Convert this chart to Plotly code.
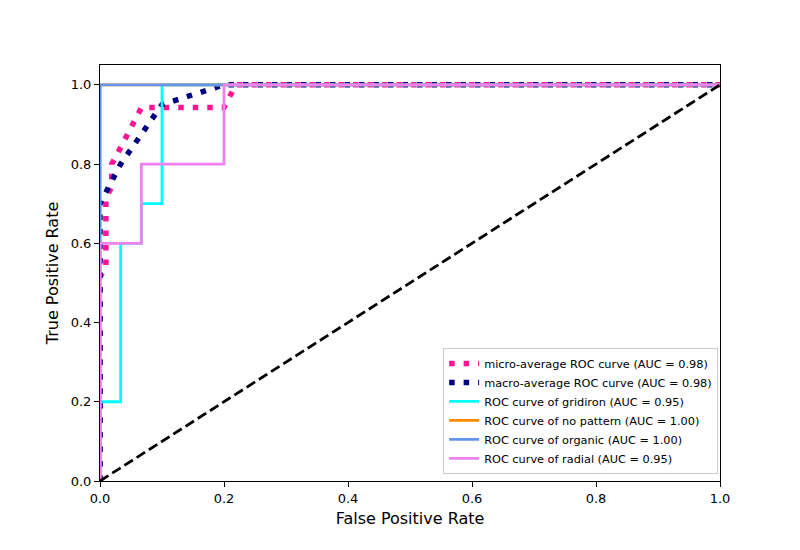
import plotly.graph_objects as go

# ---- data ----
micro_fpr = [0.0, 0.0, 0.0095, 0.0095, 0.019, 0.019, 0.029, 0.038, 0.048, 0.057, 0.067, 0.2, 0.21, 0.219, 1.0]
micro_tpr = [0.0, 0.514, 0.543, 0.714, 0.743, 0.8, 0.829, 0.857, 0.886, 0.914, 0.943, 0.943, 0.971, 1.0, 1.0]

macro_fpr = [0.0, 0.0, 0.0333, 0.0667, 0.1, 0.2, 1.0]
macro_tpr = [0.0, 0.7, 0.8, 0.875, 0.95, 1.0, 1.0]

grid_fpr = [0.0, 0.0, 0.0333, 0.0333, 0.0667, 0.0667, 0.1, 0.1, 1.0]
grid_tpr = [0.0, 0.2, 0.2, 0.6, 0.6, 0.7, 0.7, 1.0, 1.0]

nop_fpr = [0.0, 0.0, 1.0]
nop_tpr = [0.0, 1.0, 1.0]

org_fpr = [0.0, 0.0, 1.0]
org_tpr = [0.0, 1.0, 1.0]

rad_fpr = [0.0, 0.0, 0.0667, 0.0667, 0.2, 0.2, 1.0]
rad_tpr = [0.0, 0.6, 0.6, 0.8, 0.8, 1.0, 1.0]

diag_x = [0.0, 1.0]
diag_y = [0.0, 1.0]

labels = [
    "micro-average ROC curve (AUC = 0.98)",
    "macro-average ROC curve (AUC = 0.98)",
    "ROC curve of gridiron (AUC = 0.95)",
    "ROC curve of no pattern (AUC = 1.00)",
    "ROC curve of organic (AUC = 1.00)",
    "ROC curve of radial (AUC = 0.95)",
]
x_ticks = [0.0, 0.2, 0.4, 0.6, 0.8, 1.0]
y_ticks = [0.0, 0.2, 0.4, 0.6, 0.8, 1.0]

fig = go.Figure()
dot = "5.5px,9px"
fig.add_trace(go.Scatter(x=micro_fpr, y=micro_tpr, mode="lines", name=labels[0],
                         line=dict(color="#FF1493", width=5.5, dash=dot)))
fig.add_trace(go.Scatter(x=macro_fpr, y=macro_tpr, mode="lines", name=labels[1],
                         line=dict(color="#000080", width=5.5, dash=dot)))
fig.add_trace(go.Scatter(x=grid_fpr, y=grid_tpr, mode="lines", name=labels[2],
                         line=dict(color="#00FFFF", width=2.8)))
fig.add_trace(go.Scatter(x=nop_fpr, y=nop_tpr, mode="lines", name=labels[3],
                         line=dict(color="#FF8C00", width=2.8)))
fig.add_trace(go.Scatter(x=org_fpr, y=org_tpr, mode="lines", name=labels[4],
                         line=dict(color="#6495ED", width=2.8)))
fig.add_trace(go.Scatter(x=rad_fpr, y=rad_tpr, mode="lines", name=labels[5],
                         line=dict(color="#EE82EE", width=2.8)))
fig.add_trace(go.Scatter(x=diag_x, y=diag_y, mode="lines", showlegend=False,
                         line=dict(color="black", width=2.8, dash="10px,4.5px")))

font = "DejaVu Sans"
fig.update_layout(
    width=800, height=550,
    margin=dict(l=100, r=80, t=65, b=69),
    paper_bgcolor="white", plot_bgcolor="white",
    font=dict(family=font, color="black", size=13),
    legend=dict(x=0.997, y=0.017, xanchor="right", yanchor="bottom",
                bgcolor="rgba(255,255,255,0.8)", bordercolor="#cccccc", borderwidth=1,
                font=dict(family=font, size=11.3), itemwidth=30,
                tracegroupgap=0),
    xaxis=dict(range=[0, 1], tickvals=x_ticks, ticktext=[f"{v:.1f}" for v in x_ticks],
               showgrid=False, zeroline=False, showline=True, linecolor="black", linewidth=1,
               mirror=True, ticks="outside", ticklen=5, tickwidth=1, tickcolor="black",
               tickfont=dict(size=13),
               title=dict(text="False Positive Rate", font=dict(size=16), standoff=8)),
    yaxis=dict(range=[0, 1.05], tickvals=y_ticks, ticktext=[f"{v:.1f}" for v in y_ticks],
               showgrid=False, zeroline=False, showline=True, linecolor="black", linewidth=1,
               mirror=True, ticks="outside", ticklen=5, tickwidth=1, tickcolor="black",
               tickfont=dict(size=13),
               title=dict(text="True Positive Rate", font=dict(size=16), standoff=8)),
)

fig.write_html("out.html")
